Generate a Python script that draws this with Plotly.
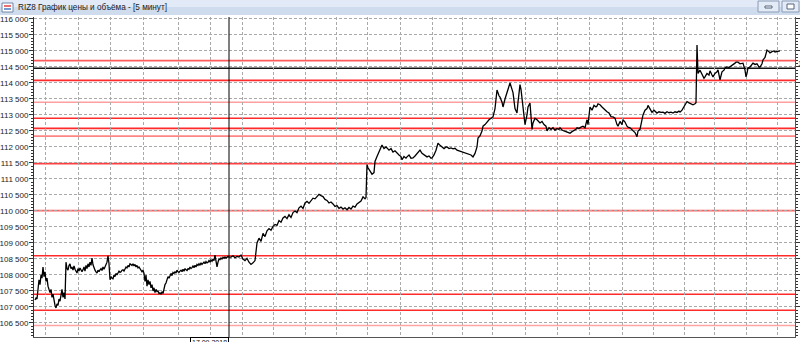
import plotly.graph_objects as go

# ---------------- data ----------------
title_text = "RIZ8 График цены и объёма - [5 минут]"
date_label = "17.09.2018"

# segment A: one value per 5-minute bar (bars 35..229)
bars_a = list(range(35, 230))
price_a = [107220, 107280, 107250, 107500, 107850, 107700, 108000, 107900, 108250, 107950,
           108100, 107800, 107900, 107650, 107550, 107450, 107550, 107300, 107400, 107150,
           107050, 106970, 107100, 107050, 107250, 107180, 107400, 107550, 107300, 107450,
           107250, 108400, 108200, 108150, 108300, 108350, 108200, 108250, 108150, 108280,
           108180, 108100, 108060, 108200, 108120, 108220, 108150, 108100, 108160, 108250,
           108120, 108300, 108200, 108350, 108250, 108400, 108300, 108530, 108320, 108200,
           108150, 108100, 108060, 108150, 108100, 108160, 108200, 108140, 108250, 108180,
           108250, 108300, 108400, 108600, 108350, 107850, 107950, 107900, 107880, 108000,
           107950, 108050, 108000, 108060, 108120, 108080, 108100, 108150, 108160, 108120,
           108200, 108250, 108220, 108300, 108250, 108350, 108330, 108300, 108350, 108280,
           108330, 108250, 108300, 108220, 108250, 108200, 108180, 108100, 108150, 108050,
           107800, 108000, 107650, 107850, 107700, 107800, 107600, 107700, 107500, 107600,
           107450, 107550, 107480, 107500, 107420, 107440, 107400, 107480, 107420, 107600,
           107700, 107750, 107850, 107950, 107900, 108000, 108050, 107980, 108080, 108050,
           108100, 108060, 108150, 108100, 108080, 108120, 108150, 108100, 108180, 108120,
           108200, 108160, 108140, 108200, 108180, 108250, 108200, 108230, 108280, 108230,
           108300, 108250, 108330, 108300, 108350, 108300, 108380, 108330, 108360, 108400,
           108350, 108420, 108380, 108400, 108450, 108400, 108470, 108430, 108500, 108450,
           108620, 108450, 108250, 108400, 108500, 108480, 108530, 108500, 108550, 108520,
           108560, 108530, 108550, 108580, 108560]

# segment B
bars_b = [231, 233, 235, 237, 239, 241, 243, 245, 247, 249,
          251, 253, 255, 257, 259, 261, 263, 265, 267, 269,
          271, 273, 275, 277, 279, 281, 283, 285, 287, 289,
          291, 293, 295, 297, 299, 301, 303, 305, 307, 309,
          311, 313, 315, 317, 319, 321, 323, 325, 327, 329,
          331, 333, 335, 337, 339, 341, 343, 345, 347, 349,
          351, 353, 355, 357, 359, 361, 363, 365, 366, 367]
price_b = [108560, 108600, 108540, 108580, 108560, 108620, 108500, 108450, 108520, 108400,
           108330, 108380, 108450, 109000, 109150, 109050, 109300, 109200, 109380, 109450,
           109400, 109520, 109580, 109550, 109700, 109650, 109780, 109830, 109760, 109880,
           109800, 109950, 110000, 109950, 110100, 110150, 110080, 110250, 110300, 110240,
           110330, 110400, 110380, 110470, 110520, 110480, 110450, 110360, 110330, 110250,
           110280, 110220, 110140, 110170, 110080, 110120, 110060, 110100, 110040, 110110,
           110060, 110150, 110120, 110220, 110260, 110310, 110440, 110380, 110420, 111450]

# segment C
bars_c = [368, 370, 372, 374, 375, 377, 379, 381, 382, 384,
          386, 387, 389, 391, 393, 395, 397, 399, 401, 402,
          404, 406, 407, 409, 411, 413, 415, 417, 419, 420,
          422, 424, 426, 427, 429, 431, 432, 434, 436, 438,
          440, 442, 444, 446, 447, 449, 451, 453, 455, 457,
          459, 461, 463, 465, 467, 469, 471, 472, 473, 475,
          477, 478, 480, 482, 483, 485, 487, 489, 491, 493,
          495, 496, 497, 499, 500, 502, 503, 505, 507, 509,
          510, 512, 513, 515, 517, 518, 520, 521, 523, 525,
          527, 528, 530, 532, 533, 535, 537, 539, 540, 542,
          544, 546, 547, 549, 551, 553, 555, 557, 559, 560,
          562, 564, 566, 568, 570, 572, 574, 576, 577, 579,
          581, 583, 585, 586, 587, 588, 589, 590, 592, 594,
          596, 597, 598, 600, 602, 604, 606, 607, 609, 611,
          613, 615, 617, 618, 620, 622, 623, 625, 627, 628,
          630, 632, 633, 635, 637, 638, 640, 642, 643, 645,
          647, 648, 650, 652, 654, 656, 657, 659, 661, 663,
          665, 667, 669, 671, 673, 675, 677, 679, 680, 682,
          684, 686, 687, 689, 691, 693, 695, 696]
price_c = [111350, 111250, 111150, 111200, 111550, 111700, 111850, 111950, 112060, 111950,
           112000, 111970, 111900, 111950, 111840, 111880, 111800, 111750, 111700, 111600,
           111700, 111650, 111690, 111750, 111650, 111660, 111720, 111800, 111850, 111900,
           111800, 111750, 111700, 111690, 111720, 111650, 111660, 111750, 111900, 112120,
           112050, 112000, 111950, 112000, 112000, 111950, 111970, 111940, 111960, 111900,
           111880, 111850, 111840, 111820, 111800, 111780, 111750, 111720, 111690, 111800,
           112000, 112280, 112350, 112500, 112650, 112700, 112780, 112850, 112900, 112940,
           113200, 113500, 113780, 113600, 113560, 113400, 113250, 113500, 113700, 113850,
           114000, 113800, 113700, 113200, 113060, 113400, 113950, 113800, 113250, 112700,
           113000, 113250, 113370, 112550, 112750, 112900, 112850, 112780, 112750, 112800,
           112700, 112650, 112500, 112600, 112550, 112600, 112520, 112580, 112550, 112600,
           112530, 112500, 112470, 112440, 112430, 112480, 112520, 112550, 112600, 112580,
           112620, 112650, 112600, 112700, 112850, 112700, 113100, 113250, 113150, 113300,
           113250, 113280, 113350, 113320, 113250, 113180, 113120, 113100, 113060, 112950,
           112940, 112900, 112700, 112650, 112800, 112700, 112850, 112780, 112650, 112620,
           112600, 112550, 112530, 112450, 112320, 112500, 112550, 112800, 113000, 113150,
           113200, 113300, 113200, 113080, 113150, 113100, 113060, 113100, 113080, 113090,
           113050, 113100, 113070, 113090, 113060, 113100, 113080, 113120, 113090, 113150,
           113250, 113350, 113420, 113380, 113340, 113320, 113350, 113380]

# segment D
bars_d = [697, 698, 700, 702, 704, 705, 707, 709, 710, 712,
          713, 715, 717, 718, 720, 722, 724, 725, 727, 729,
          730, 732, 734, 735, 736, 738, 740, 742, 743, 745,
          746, 747, 748, 750, 752, 753, 755, 757, 759, 760,
          762, 763, 765, 767, 769, 770, 772, 774, 775, 777,
          779, 780]
price_d = [115190, 114300, 114400, 114250, 114150, 114190, 114300, 114250, 114380, 114250,
           114190, 114300, 114350, 114410, 114100, 114350, 114400, 114470, 114500, 114480,
           114500, 114550, 114580, 114620, 114650, 114650, 114600, 114630, 114620, 114400,
           114190, 114300, 114470, 114500, 114560, 114620, 114580, 114600, 114500, 114500,
           114600, 114720, 114800, 115030, 114980, 114940, 114980, 115000, 114970, 114990,
           115010, 115000]

# day boundaries (bar index) for vertical grid, and cursor bar
day_starts = [45, 78, 110, 143, 178, 210, 242, 273, 305, 336, 367, 400, 432, 462, 492, 525,
              557, 589, 622, 653, 684, 714, 746, 777]
cursor_bar = 229

# horizontal level lines
levels = [114700, 114080, 113400, 112900, 112580, 112340, 111480, 110010, 108600, 107400, 106900, 106420]
level_colors = ["#ff5a5a", "#ff2b2b", "#ffa0a0", "#ff2b2b", "#ff2b2b", "#ff8585", "#ff4040",
                "#ff6060", "#ff2b2b", "#ff2b2b", "#ff2b2b", "#ffa3a3"]
black_level = 114460
y_min, y_max = 106062, 116062
x_min, x_max = 34, 795

bars = bars_a + bars_b + bars_c + bars_d
price = price_a + price_b + price_c + price_d
assert len(bars) == len(price)

# ---------------- figure ----------------
W, H = 800, 342
ML, MR, MT, MB = 34, 5, 17, 5
PW, PH = W - ML - MR, H - MT - MB


def px(xp):
    return (xp - ML) / PW


def py(yp):
    return (H - MB - yp) / PH


fig = go.Figure()
fig.add_trace(go.Scatter(x=bars, y=price, mode="lines",
                         line=dict(color="#000000", width=1.3), hoverinfo="skip"))
fig.add_trace(go.Scatter(x=[x_min], y=[110000], yaxis="y2", mode="markers",
                         marker=dict(opacity=0), hoverinfo="skip"))

shapes = []
for lv, c in zip(levels, level_colors):
    shapes.append(dict(type="line", xref="paper", x0=0, x1=1, yref="y", y0=lv, y1=lv,
                       line=dict(color=c, width=1.6), layer="below"))
shapes.append(dict(type="line", xref="paper", x0=0, x1=1, yref="y", y0=black_level, y1=black_level,
                   line=dict(color="#111111", width=1.4), layer="below"))
shapes.append(dict(type="line", xref="x", x0=cursor_bar, x1=cursor_bar, yref="paper", y0=0, y1=1,
                   line=dict(color="#000000", width=1)))

# window title bar
shapes.append(dict(type="rect", xref="paper", yref="paper", x0=px(0), x1=px(W), y0=py(7), y1=py(0),
                   fillcolor="#e1eaf6", line=dict(width=0), layer="above"))
shapes.append(dict(type="rect", xref="paper", yref="paper", x0=px(0), x1=px(W), y0=py(15), y1=py(7),
                   fillcolor="#cfdcee", line=dict(width=0), layer="above"))
# icon
shapes.append(dict(type="rect", xref="paper", yref="paper", x0=px(2), x1=px(13), y0=py(12), y1=py(3),
                   fillcolor="#ffffff", line=dict(color="#6f86a8", width=1), layer="above"))
shapes.append(dict(type="line", xref="paper", yref="paper", x0=px(4), x1=px(11), y0=py(6), y1=py(6),
                   line=dict(color="#e04040", width=1.5), layer="above"))
shapes.append(dict(type="line", xref="paper", yref="paper", x0=px(4), x1=px(11), y0=py(9), y1=py(9),
                   line=dict(color="#4a78c0", width=1.5), layer="above"))
# buttons
for bx0, bx1 in [(758, 779), (782, 799)]:
    shapes.append(dict(type="rect", xref="paper", yref="paper", x0=px(bx0), x1=px(bx1), y0=py(12), y1=py(1),
                       fillcolor="#e3ebf6", line=dict(color="#8a9bb5", width=1), layer="above"))
shapes.append(dict(type="rect", xref="paper", yref="paper", x0=px(765), x1=px(772), y0=py(8), y1=py(6),
                   fillcolor="#ffffff", line=dict(color="#56667e", width=1), layer="above"))
shapes.append(dict(type="rect", xref="paper", yref="paper", x0=px(787), x1=px(794), y0=py(9), y1=py(4),
                   fillcolor="#ffffff", line=dict(color="#56667e", width=1), layer="above"))

annotations = [
    dict(xref="paper", yref="paper", x=px(16), y=py(7), xanchor="left", yanchor="middle",
         text=title_text, showarrow=False, font=dict(family="Liberation Sans", size=8.2, color="#1b1b1b")),
    dict(xref="paper", yref="y", x=px(796), y=114620, xanchor="left", yanchor="middle",
         text="1", showarrow=False, font=dict(family="Liberation Sans", size=8, color="#222")),
    dict(xref="x", yref="paper", x=cursor_bar, y=py(337), xanchor="right", yanchor="top",
         text=date_label, showarrow=False, bgcolor="#ffffff", bordercolor="#000000", borderwidth=1,
         borderpad=1, font=dict(family="Liberation Sans", size=7, color="#111")),
]

grid_style = dict(showgrid=True, gridcolor="#a9a9a9", gridwidth=1, griddash="3px,2px")

fig.update_layout(
    width=W, height=H, autosize=False,
    margin=dict(l=ML, r=MR, t=MT, b=MB, pad=0, autoexpand=False),
    paper_bgcolor="#ffffff", plot_bgcolor="#ffffff",
    showlegend=False, separators=", ",
    shapes=shapes, annotations=annotations,
    xaxis=dict(range=[x_min, x_max], tickmode="array", tickvals=day_starts, showticklabels=False,
               ticks="", showline=True, linecolor="#555555", linewidth=1, zeroline=False,
               automargin=False, **grid_style),
    yaxis=dict(range=[y_min, y_max], tickmode="linear", tick0=106500, dtick=500, tickformat=",d",
               ticks="outside", ticklen=4, tickcolor="#333333", showline=True, linecolor="#333333",
               linewidth=1, zeroline=False, ticklabelstandoff=-1, automargin=False,
               tickfont=dict(family="Liberation Sans", size=8, color="#1a1a1a"),
               minor=dict(tick0=106000, dtick=100, ticks="outside", ticklen=2, tickcolor="#333333",
                          showgrid=False),
               **grid_style),
    yaxis2=dict(range=[y_min, y_max], overlaying="y", side="right", showticklabels=False,
                tickmode="linear", tick0=106500, dtick=500, ticks="outside", ticklen=4,
                tickcolor="#333333", showline=True, linecolor="#555555", showgrid=False, zeroline=False,
                automargin=False,
                minor=dict(tick0=106000, dtick=100, ticks="outside", ticklen=2, tickcolor="#333333",
                           showgrid=False)),
)

fig.write_html("out.html")
